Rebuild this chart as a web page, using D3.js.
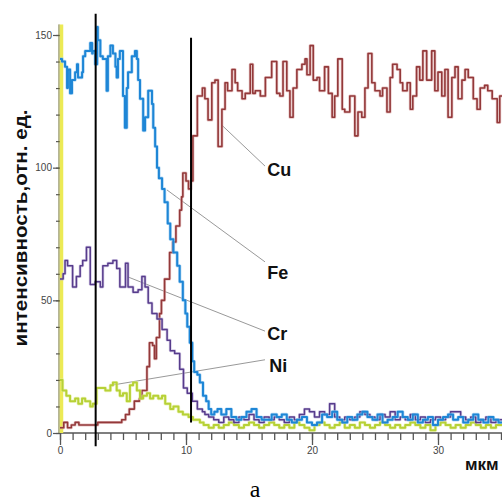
<!DOCTYPE html>
<html><head><meta charset="utf-8">
<script src="https://cdn.jsdelivr.net/npm/d3@7"></script>
<style>html,body{margin:0;padding:0;background:#fff;}svg{display:block;}</style>
</head><body><div id="chart"></div>
<script>
// ---------- data (x in мкм, intensity in отн. ед.) ----------
const fe = [[0,141],[0.16,140],[0.4,138],[0.56,130],[0.63,137],[0.8,128],[0.95,133],[1.2,136],[1.35,139],[1.43,134],[1.75,136],[1.83,142],[2.0,144],[2.2,144],[2.4,147],[2.55,143],[2.6,144],[2.8,139],[2.95,153],[3.0,148],[3.2,142],[3.4,141],[3.7,129],[3.8,142],[4.0,146],[4.2,143],[4.4,138],[4.5,134],[4.6,141],[4.75,144],[5.0,127],[5.15,115],[5.3,130],[5.4,136],[5.7,142],[5.95,144],[6.1,141],[6.2,133],[6.35,126],[6.6,114],[6.75,119],[7.0,129],[7.3,124],[7.4,115],[7.55,108],[7.7,100],[7.85,96],[8.1,92],[8.3,87],[8.55,79],[8.75,73],[9.0,68],[9.3,63],[9.5,57],[9.75,50],[9.95,45],[10.1,40],[10.3,34],[10.5,27],[10.65,23],[10.9,22],[11.1,19],[11.35,14],[11.6,12],[11.8,9],[12.0,7],[12.25,8],[12.5,9],[12.8,7],[13.2,9],[13.6,6],[14.0,5],[14.4,6],[14.8,8],[15.2,9],[15.6,6],[16.0,5],[16.4,5],[16.8,7],[17.2,6],[17.6,7],[18.0,5],[18.4,4],[18.8,5],[19.2,6],[19.6,4],[20.0,3],[20.4,4],[20.8,7],[21.2,6],[21.6,8],[22.0,5],[22.4,4],[22.8,6],[23.2,5],[23.6,7],[24.0,8],[24.4,6],[24.8,5],[25.2,7],[25.6,4],[26.0,5],[26.4,6],[26.8,8],[27.2,6],[27.6,5],[28.0,7],[28.4,4],[28.8,5],[29.2,6],[29.6,3],[30.0,5],[30.4,6],[30.8,7],[31.2,5],[31.6,6],[32.0,4],[32.4,5],[32.8,7],[33.2,5],[33.6,4],[34.0,6],[34.4,5],[34.8,4],[35.1,4]];

const cr = [[0,58],[0.25,60],[0.4,65],[0.6,63],[1.0,55],[1.3,59],[1.6,63],[1.8,65],[2.1,70],[2.4,56],[2.8,57],[3.2,55],[3.4,63],[3.8,64],[4.2,65],[4.5,62],[4.75,55],[5.2,64],[5.4,55],[5.8,53],[6.2,54],[6.5,59],[6.75,55],[7.0,49],[7.3,45],[7.7,43],[8.1,39],[8.5,35],[8.75,31],[9.1,30],[9.5,24],[9.8,17],[10.1,15],[10.5,12],[10.9,9],[11.3,8],[11.5,7],[11.8,6],[12.2,5],[12.6,4],[13.0,6],[13.4,5],[13.8,4],[14.2,6],[14.6,5],[15.0,7],[15.4,5],[15.8,4],[16.2,6],[16.6,5],[17.0,6],[17.4,5],[17.8,4],[18.2,6],[18.6,5],[19.0,7],[19.4,9],[19.8,8],[20.2,6],[20.6,8],[21.0,7],[21.4,11],[21.8,6],[22.2,5],[22.6,6],[23.0,5],[23.4,6],[23.8,8],[24.2,7],[24.6,6],[25.0,5],[25.4,7],[25.8,6],[26.2,8],[26.6,5],[27.0,6],[27.4,5],[27.8,7],[28.2,5],[28.6,6],[29.0,4],[29.4,5],[29.8,6],[30.2,5],[30.6,6],[31.0,8],[31.4,8],[31.8,6],[32.2,5],[32.6,6],[33.0,4],[33.4,5],[33.8,6],[34.2,4],[34.6,5],[35.1,5]];

const cu = [[0,2],[0.3,4],[0.6,2],[0.9,3],[1.2,4],[1.5,3],[2.0,3],[2.5,3],[3.0,4],[3.5,4],[4.0,4],[4.5,4],[4.9,5],[5.2,7],[5.5,9],[5.9,12],[6.3,13],[6.5,16],[6.9,25],[7.1,34],[7.35,33],[7.5,28],[7.65,36],[7.9,45],[8.05,50],[8.3,58],[8.7,68],[8.95,72],[9.2,78],[9.5,84],[9.65,89],[9.75,98],[10.0,95],[10.2,92],[10.4,95],[10.55,112],[10.9,127],[11.3,130],[11.5,126],[11.75,118],[12.05,132],[12.3,133],[12.55,108],[12.85,122],[13.1,132],[13.3,129],[13.65,137],[13.9,132],[14.1,129],[14.45,126],[14.7,128],[15.1,139],[15.3,128],[15.5,129],[15.9,127],[16.3,134],[16.8,140],[17.2,128],[17.45,127],[17.7,140],[18.0,129],[18.25,119],[18.5,130],[18.8,137],[19.2,139],[19.45,141],[19.6,135],[19.85,146],[20.1,133],[20.4,134],[20.6,129],[21.0,138],[21.3,128],[21.6,119],[21.8,127],[22.05,141],[22.4,122],[22.6,121],[23.0,127],[23.4,112],[23.65,121],[23.95,119],[24.2,130],[24.45,143],[24.75,132],[25.0,129],[25.4,127],[25.6,130],[25.95,121],[26.2,134],[26.4,139],[26.75,137],[27.0,132],[27.2,129],[27.55,132],[27.8,122],[28.0,127],[28.3,138],[28.55,133],[28.8,144],[29.1,133],[29.5,144],[29.75,129],[30.0,136],[30.3,127],[30.55,137],[30.8,119],[31.1,134],[31.35,138],[31.6,126],[31.9,133],[32.15,137],[32.4,134],[32.8,126],[33.1,122],[33.35,130],[33.7,131],[33.95,129],[34.3,126],[34.7,117],[34.9,127],[35.1,127]];

const ni = [[0,20],[0.2,16],[0.5,14],[0.8,12],[1.2,13],[1.45,11],[1.75,13],[2.0,12],[2.4,10],[2.6,11],[2.9,17],[3.2,17],[3.6,16],[4.0,18],[4.2,19],[4.5,16],[4.75,14],[5.0,15],[5.3,12],[5.55,18],[5.8,19],[6.1,16],[6.35,13],[6.6,14],[6.9,15],[7.15,13],[7.4,14],[7.8,13],[8.1,14],[8.35,11],[8.75,9],[9.0,10],[9.4,8],[9.75,7],[10.2,6],[10.55,5],[11.1,4],[11.4,3],[11.8,2],[12.2,3],[12.6,2],[13.0,3],[13.4,4],[13.8,3],[14.2,2],[14.6,3],[15.0,4],[15.4,3],[15.8,2],[16.2,3],[16.6,4],[17.0,3],[17.4,2],[17.8,3],[18.2,2],[18.6,4],[19.0,3],[19.4,2],[19.8,1],[20.2,3],[20.6,4],[21.0,3],[21.4,2],[21.8,3],[22.2,4],[22.6,2],[23.0,3],[23.4,2],[23.8,4],[24.2,3],[24.6,2],[25.0,3],[25.4,4],[25.8,3],[26.2,2],[26.6,3],[27.0,2],[27.4,3],[27.8,4],[28.2,3],[28.6,2],[29.0,3],[29.4,1],[29.8,3],[30.2,4],[30.6,3],[31.0,2],[31.4,3],[31.8,2],[32.2,3],[32.6,4],[33.0,3],[33.4,2],[33.8,3],[34.2,2],[34.6,3],[35.1,3]];

const xMajorTicks = [0, 10, 20, 30];
const yMajorTicks = [0, 50, 100, 150];
const boundaries = [2.83, 10.4];          // vertical marker lines (мкм)
const boundarySpan = [[-5, 158], [4, 149]]; // their vertical extents (отн. ед.)
const labels = [
  {name: "Cu", from: [12.85, 116], to: [16.27, 100.6], at: [16.45, 97]},
  {name: "Fe", from: [8.49, 91.6], to: [16.27, 64.5], at: [16.45, 58]},
  {name: "Cr", from: [5.4, 58.8], to: [16.27, 38.4], at: [16.45, 35]},
  {name: "Ni", from: [4.2, 18.1], to: [16.27, 27.6], at: [16.6, 23]}
];
const yTitle = "интенсивность,отн. ед.";
const xUnit = "мкм";
const panel = "а";

// ---------- drawing ----------
const W = 502, H = 502;
const svg = d3.select("#chart").append("svg").attr("width", W).attr("height", H)
  .style("font-family", "'Liberation Sans', Arial, sans-serif");

const x = d3.scaleLinear().domain([0, 35.08]).range([60, 502]);
const y = d3.scaleLinear().domain([0, 150]).range([433, 35]);

const axisColor = "#555";

// x axis minor & major
const gx1 = svg.append("g").attr("transform", `translate(0,${y(0)})`)
  .call(d3.axisBottom(x).tickValues(d3.range(0, 36)).tickSize(7).tickFormat(""));
const gx2 = svg.append("g").attr("transform", `translate(0,${y(0)})`)
  .call(d3.axisBottom(x).tickValues(xMajorTicks).tickSize(12).tickPadding(2).tickFormat(d3.format("d")));
[gx1, gx2].forEach(g => {
  g.select(".domain").remove();
  g.selectAll("line").attr("stroke", axisColor).attr("stroke-width", 1.3);
  g.selectAll("text").attr("fill", "#444").style("font-size", "10px").style("font-family", "'Liberation Sans', Arial, sans-serif");
});
svg.append("line").attr("x1", x(0)).attr("x2", W).attr("y1", y(0)).attr("y2", y(0))
  .attr("stroke", axisColor).attr("stroke-width", 1.5);

// y axis minor & major
const gy1 = svg.append("g").attr("transform", `translate(${x(0)},0)`)
  .call(d3.axisLeft(y).tickValues(d3.range(0, 151, 10)).tickSize(4).tickFormat(""));
const gy2 = svg.append("g").attr("transform", `translate(${x(0)},0)`)
  .call(d3.axisLeft(y).tickValues(yMajorTicks).tickSize(7).tickPadding(1).tickFormat(d3.format("d")));
[gy1, gy2].forEach(g => {
  g.select(".domain").remove();
  g.selectAll("line").attr("stroke", axisColor).attr("stroke-width", 1.2);
  g.selectAll("text").attr("fill", "#444").style("font-size", "10px").style("font-family", "'Liberation Sans', Arial, sans-serif");
});
svg.append("line").attr("x1", x(0) - 1).attr("x2", x(0) - 1).attr("y1", y(0)).attr("y2", y(154))
  .attr("stroke", "#6b6a2a").attr("stroke-width", 1);
// yellow band along the axis
svg.append("line").attr("x1", x(0) + 1.5).attr("x2", x(0) + 1.5).attr("y1", y(0)).attr("y2", y(154))
  .attr("stroke", "#ecea55").attr("stroke-width", 3.5);

// leader lines
svg.append("g").selectAll("line").data(labels).join("line")
  .attr("x1", d => x(d.from[0])).attr("y1", d => y(d.from[1]))
  .attr("x2", d => x(d.to[0])).attr("y2", d => y(d.to[1]))
  .attr("stroke", "#999").attr("stroke-width", 1);

// series
const line = d3.line().x(d => x(d[0])).y(d => y(d[1])).curve(d3.curveStepAfter);
const series = [
  {data: cu, color: "#93393a", halo: "#d9a0a0", w: 1.6},
  {data: ni, color: "#b7d136", halo: "#e2ee9a", w: 2.0},
  {data: cr, color: "#573c8c", halo: "#b9aad6", w: 1.5},
  {data: fe, color: "#1e86d6", halo: "#8cc4ee", w: 2.0}
];
series.forEach(s => {
  svg.append("path").attr("d", line(s.data)).attr("fill", "none")
    .attr("stroke", s.halo).attr("stroke-width", s.w + 1.4).attr("stroke-linejoin", "round").attr("opacity", 0.6);
  svg.append("path").attr("d", line(s.data)).attr("fill", "none")
    .attr("stroke", s.color).attr("stroke-width", s.w).attr("stroke-linejoin", "round");
});

// vertical boundary lines
svg.append("g").selectAll("line").data(boundaries).join("line")
  .attr("x1", d => x(d)).attr("x2", d => x(d))
  .attr("y1", (d, i) => y(boundarySpan[i][1])).attr("y2", (d, i) => y(boundarySpan[i][0]))
  .attr("stroke", "#000").attr("stroke-width", 2);

// element labels
svg.append("g").selectAll("text").data(labels).join("text")
  .attr("x", d => x(d.at[0])).attr("y", d => y(d.at[1]))
  .attr("fill", "#111").style("font-size", "18px").style("font-weight", "bold")
  .text(d => d.name);

// y title
svg.append("text")
  .attr("transform", `translate(27,228) rotate(-90)`)
  .attr("text-anchor", "middle")
  .attr("textLength", 237).attr("lengthAdjust", "spacingAndGlyphs")
  .attr("fill", "#111").style("font-size", "18px").style("font-weight", "bold")
  .text(yTitle);

// unit
svg.append("text").attr("x", 465).attr("y", 470)
  .attr("fill", "#111").style("font-size", "17px").style("font-weight", "bold")
  .text(xUnit);

// panel letter
svg.append("text").attr("x", 255).attr("y", 497).attr("text-anchor", "middle")
  .attr("fill", "#000").style("font-size", "24px")
  .style("font-family", "'Liberation Serif', 'Times New Roman', serif")
  .text(panel);
</script>
</body></html>
